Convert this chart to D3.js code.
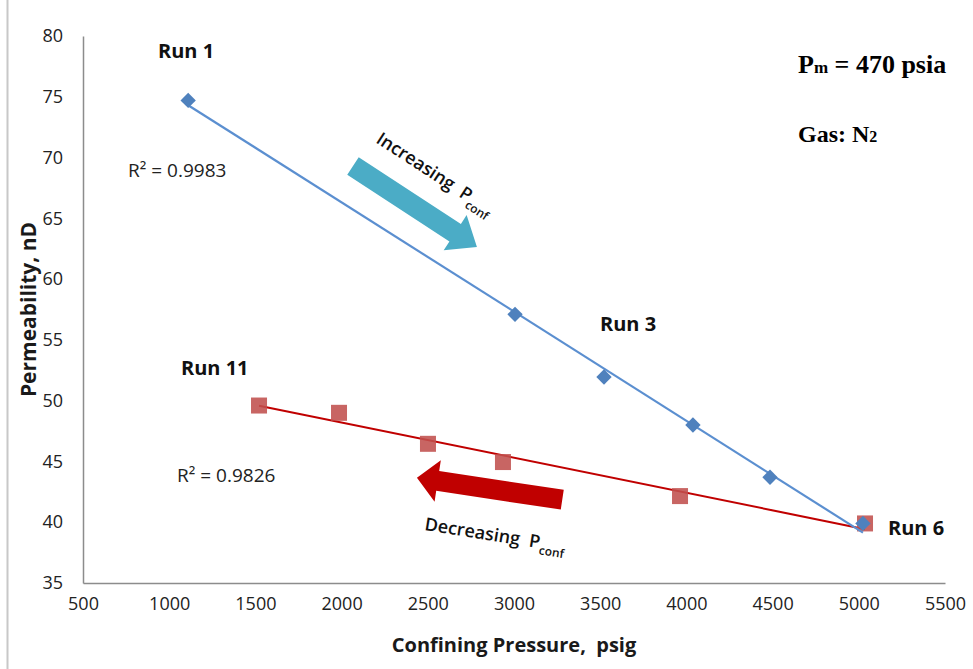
<!DOCTYPE html>
<html>
<head>
<meta charset="utf-8">
<script src="https://cdn.jsdelivr.net/npm/d3@7"></script>
<style>
  body { margin: 0; background: #fff; }
  text { font-family: "Open Sans", "DejaVu Sans", sans-serif; white-space: pre; }
</style>
</head>
<body>
<div id="chart"></div>
<script>
// permeability vs confining pressure, two runs with linear trendlines

const xTicks = [500, 1000, 1500, 2000, 2500, 3000, 3500, 4000, 4500, 5000, 5500];
const yTicks = [35, 40, 45, 50, 55, 60, 65, 70, 75, 80];

// increasing Pconf (blue diamonds)
const incPressure = [1110, 3006, 3522, 4038, 4485, 5024];
const incPerm     = [74.7, 57.1, 51.95, 48.0, 43.7, 39.9];

// decreasing Pconf (red squares)
const decPressure = [1521, 1985, 2501, 2936, 3963, 5036];
const decPerm     = [49.6, 49.0, 46.45, 44.95, 42.15, 39.9];

const width = 973, height = 669;
const margin = { top: 36, right: 28, bottom: 86, left: 83 };

const svg = d3.select("#chart").append("svg")
  .attr("width", width)
  .attr("height", height);

const x = d3.scaleLinear().domain([500, 5500]).range([margin.left, width - margin.right]);
const y = d3.scaleLinear().domain([35, 80]).range([height - margin.bottom, margin.top]);

// frame edge on the left
svg.append("line")
  .attr("x1", 7.5).attr("x2", 7.5).attr("y1", 0).attr("y2", height)
  .attr("stroke", "#c8c8c8").attr("stroke-width", 2);

// axes
const xAxisG = svg.append("g")
  .attr("transform", `translate(0,${y(35)})`)
  .call(d3.axisBottom(x).tickValues(xTicks).tickFormat(d3.format("d"))
    .tickSize(0).tickPadding(14).tickSizeOuter(0));
const yAxisG = svg.append("g")
  .attr("transform", `translate(${x(500)},0)`)
  .call(d3.axisLeft(y).tickValues(yTicks).tickSize(0).tickPadding(20).tickSizeOuter(0));

[xAxisG, yAxisG].forEach(a => {
  a.select(".domain").attr("stroke", "#8c8c8c").attr("stroke-width", 1.5);
  a.selectAll("text").attr("font-size", 18).attr("fill", "#222")
    .style("font-family", "'Open Sans', sans-serif");
});

svg.append("text")
  .attr("x", 514).attr("y", 652)
  .attr("text-anchor", "middle")
  .attr("font-size", 20).attr("font-weight", "bold").attr("fill", "#1a1a1a")
  .text("Confining Pressure,\u00a0\u00a0psig");

svg.append("text")
  .attr("transform", `translate(36,${(y(35) + y(80)) / 2}) rotate(-90)`)
  .attr("text-anchor", "middle")
  .attr("font-size", 21).attr("font-weight", "bold").attr("fill", "#1a1a1a")
  .text("Permeability, nD");

// least squares trendline from the points
function fit(xs, ys) {
  const mx = d3.mean(xs), my = d3.mean(ys);
  let num = 0, den = 0;
  xs.forEach((v, i) => { num += (v - mx) * (ys[i] - my); den += (v - mx) * (v - mx); });
  const b = num / den, a = my - b * mx;
  const [x0, x1] = d3.extent(xs);
  return [{ p: x0, k: a + b * x0 }, { p: x1, k: a + b * x1 }];
}

const line = d3.line().x(d => x(d.p)).y(d => y(d.k));

const incPts = incPressure.map((p, i) => ({ p, k: incPerm[i] }));
const decPts = decPressure.map((p, i) => ({ p, k: decPerm[i] }));

svg.append("path").datum(fit(decPressure, decPerm))
  .attr("d", line).attr("fill", "none")
  .attr("stroke", "#c00000").attr("stroke-width", 2);

svg.selectAll(".sq").data(decPts).enter().append("rect")
  .attr("x", d => x(d.p) - 8).attr("y", d => y(d.k) - 8)
  .attr("width", 16).attr("height", 16)
  .attr("fill", "#c0504d").attr("opacity", 0.88);

svg.append("path").datum(fit(incPressure, incPerm))
  .attr("d", line).attr("fill", "none")
  .attr("stroke", "#5b8fd0").attr("stroke-width", 2.2);

svg.selectAll(".dm").data(incPts).enter().append("path")
  .attr("d", d3.symbol(d3.symbolDiamond2, 150))
  .attr("transform", d => `translate(${x(d.p)},${y(d.k)})`)
  .attr("fill", "#4f81bd");

// block arrows
function blockArrow(x0, y0, x1, y1, shaft, headW, headL, color) {
  const len = Math.hypot(x1 - x0, y1 - y0);
  const ang = Math.atan2(y1 - y0, x1 - x0) * 180 / Math.PI;
  const s = shaft / 2, h = headW / 2, b = len - headL;
  const pts = [[0, -s], [b, -s], [b, -h], [len, 0], [b, h], [b, s], [0, s]];
  svg.append("polygon")
    .attr("points", pts.map(p => p.join(",")).join(" "))
    .attr("transform", `translate(${x0},${y0}) rotate(${ang})`)
    .attr("fill", color);
}

blockArrow(x(2066), y(69.3), x(2785), y(62.65), 21, 42, 26, "#4bacc6");
blockArrow(x(3280), y(41.85), x(2437), y(43.65), 20, 42, 21, "#c00000");

// rotated captions with subscript
function caption(px, py, ang, main) {
  const t = svg.append("text")
    .attr("transform", `translate(${px},${py}) rotate(${ang})`)
    .attr("font-size", 18).attr("font-weight", 600).attr("fill", "#111");
  t.append("tspan").text(main + "\u00a0\u00a0P");
  t.append("tspan").attr("font-size", 12).attr("dy", 6).text("conf");
}
caption(375, 142, 33, "Increasing");
caption(424, 530, 9, "Decreasing");

// run labels
const runLabels = [
  { t: "Run 1", x: 158, y: 58 },
  { t: "Run 3", x: 600, y: 331 },
  { t: "Run 11", x: 181, y: 375 },
  { t: "Run 6", x: 888, y: 535 }
];
svg.selectAll(".run").data(runLabels).enter().append("text")
  .attr("x", d => d.x).attr("y", d => d.y)
  .attr("font-size", 20).attr("font-weight", "bold").attr("fill", "#111")
  .text(d => d.t);

const r2 = [
  { t: "R² = 0.9983", x: 128, y: 177 },
  { t: "R² = 0.9826", x: 177, y: 482 }
];
svg.selectAll(".r2").data(r2).enter().append("text")
  .attr("x", d => d.x).attr("y", d => d.y)
  .attr("font-size", 19).attr("fill", "#222")
  .text(d => d.t);

// conditions box
const serif = "'Liberation Serif', 'DejaVu Serif', serif";
const pm = svg.append("text").attr("x", 798).attr("y", 73)
  .attr("font-size", 26).attr("font-weight", "bold").attr("fill", "#000")
  .style("font-family", serif);
pm.append("tspan").text("P");
pm.append("tspan").attr("font-size", 17).text("m");
pm.append("tspan").text(" = 470 psia");

const gas = svg.append("text").attr("x", 798).attr("y", 142)
  .attr("font-size", 24).attr("font-weight", "bold").attr("fill", "#000")
  .style("font-family", serif);
gas.append("tspan").text("Gas: N");
gas.append("tspan").attr("font-size", 16).text("2");
</script>
</body>
</html>
